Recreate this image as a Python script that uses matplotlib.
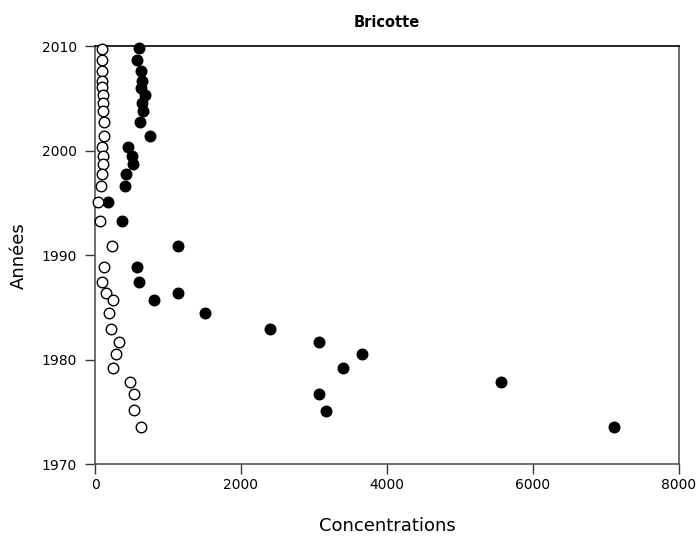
import matplotlib
matplotlib.use("Agg")
import matplotlib.pyplot as plt

plt.rcParams['font.family'] = ['DejaVu Sans']

# Filled series
filled_x = [603, 580, 630, 644, 634, 690, 639, 662, 616, 753, 457, 507, 521, 430, 416, 178, 375,
            1140, 571, 603, 1140, 813, 1507, 2397, 3073, 3662, 3393, 5562, 3068, 3160, 7110]
filled_y = [2009.8, 2008.7, 2007.6, 2006.7, 2006.0, 2005.3, 2004.6, 2003.8, 2002.7, 2001.4, 2000.4,
            1999.5, 1998.7, 1997.8, 1996.6, 1995.1, 1993.3,
            1990.9, 1988.9, 1987.4, 1986.4, 1985.7, 1984.5, 1982.9, 1981.7, 1980.5, 1979.2, 1977.9,
            1976.7, 1975.1, 1973.5]

# Open series
open_x = [91, 91, 91, 91, 100, 110, 110, 114, 119, 128, 100, 105, 105, 96, 87, 37, 73,
          228, 119, 100, 155, 247, 196, 219, 333, 288, 251, 479, 534, 530, 630]
open_y = [2009.7, 2008.7, 2007.6, 2006.7, 2006.1, 2005.3, 2004.6, 2003.8, 2002.7, 2001.4, 2000.4,
          1999.5, 1998.7, 1997.8, 1996.6, 1995.1, 1993.3,
          1990.9, 1988.9, 1987.4, 1986.4, 1985.7, 1984.5, 1982.9, 1981.7, 1980.5, 1979.2, 1977.9,
          1976.7, 1975.2, 1973.5]

x_ticks = [0, 2000, 4000, 6000, 8000]
y_ticks = [1970, 1980, 1990, 2000, 2010]

fig = plt.figure(figsize=(6.99, 5.44), dpi=100)
ax = fig.add_axes([0.136, 0.147, 0.835, 0.768])

ax.plot(filled_x, filled_y, 'o', ms=7.6, mfc='black', mec='black', mew=1.0, clip_on=False, zorder=3)
ax.plot(open_x, open_y, 'o', ms=7.6, mfc='white', mec='black', mew=1.0, clip_on=False, zorder=3)

ax.set_xlim(0, 8000)
ax.set_ylim(1970, 2010)
ax.set_xticks(x_ticks)
ax.set_yticks(y_ticks)
ax.tick_params(direction='out', length=7, width=1, labelsize=10, pad=6, colors='#333333', labelcolor='black')
ax.tick_params(axis='x', pad=3)

for side in ['left', 'bottom', 'right']:
    ax.spines[side].set_color('#555555')
    ax.spines[side].set_linewidth(1.2)
ax.spines['top'].set_color('black')
ax.spines['top'].set_linewidth(1.2)

ax.set_xlabel('Concentrations', fontsize=13, labelpad=18)
ax.set_ylabel('Années', fontsize=13, labelpad=10)
ax.set_title('Bricotte', fontsize=10.5, fontweight='bold', pad=14)

fig.savefig('out.png', dpi=100)
